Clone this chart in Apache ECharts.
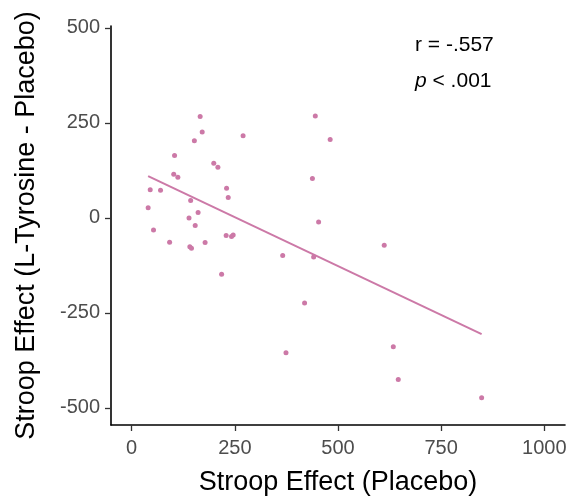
<!DOCTYPE html>
<html>
<head>
<meta charset="utf-8">
<script src="https://cdn.jsdelivr.net/npm/echarts@6/dist/echarts.min.js"></script>
<style>
html,body{margin:0;padding:0;background:#fff;}
#chart{width:575px;height:501px;}
</style>
</head>
<body>
<div id="chart"></div>
<script>
// Scatter points: Stroop Effect (Placebo) vs Stroop Effect (L-Tyrosine - Placebo)
const placebo = [166, 171, 152, 270, 104, 199, 209, 102, 112, 45, 70, 230, 234, 143, 40, 161, 139, 154, 53, 229, 242, 246, 92, 178, 141, 145, 366, 218, 445, 481, 438, 453, 612, 441, 419, 634, 646, 848, 374];
const difference = [267, 226, 203, 216, 164, 144, 133, 115, 107, 74, 73, 78, 54, 46, 27, 14, 0, -20, -32, -46, -49, -45, -64, -65, -76, -80, -99, -148, 268, 206, 104, -11, -72, -103, -224, -339, -425, -473, -355];
// Fitted regression line endpoints
const fitX = [40, 848];
const fitY = [110, -306];
const xTicks = [0, 250, 500, 750, 1000];
const yTicks = [-500, -250, 0, 250, 500];
const statR = 'r = -.557';
const statP = '.001';

const pink = '#CC79A7';
const chart = echarts.init(document.getElementById('chart'), null, {renderer: 'canvas'});
const pts = placebo.map((x, i) => [x, difference[i]]);
const fit = fitX.map((x, i) => [x, fitY[i]]);

chart.setOption({
  animation: false,
  backgroundColor: '#ffffff',
  textStyle: {fontFamily: 'Liberation Sans'},
  grid: {left: 111, right: 10, top: 26, bottom: 76, containLabel: false},
  xAxis: {
    type: 'value', min: -50, max: 1050,
    name: 'Stroop Effect (Placebo)', nameLocation: 'middle', nameGap: 44,
    nameTextStyle: {fontSize: 27, color: '#000', fontFamily: 'Liberation Sans'},
    splitLine: {show: false},
    axisLine: {show: true, onZero: false, lineStyle: {color: '#000', width: 1.6}},
    axisTick: {show: true, length: 6, customValues: xTicks, lineStyle: {color: '#333', width: 1.3}},
    axisLabel: {customValues: xTicks, fontSize: 20, color: '#4d4d4d', margin: 13,
      fontFamily: 'Liberation Sans', formatter: v => String(v)}
  },
  yAxis: {
    type: 'value', min: -545, max: 505,
    name: 'Stroop Effect (L-Tyrosine - Placebo)', nameLocation: 'middle', nameGap: 71, nameRotate: 90,
    nameTextStyle: {fontSize: 27, color: '#000', fontFamily: 'Liberation Sans'},
    splitLine: {show: false},
    axisLine: {show: true, onZero: false, lineStyle: {color: '#000', width: 1.6}},
    axisTick: {show: true, length: 6, customValues: yTicks, lineStyle: {color: '#333', width: 1.3}},
    axisLabel: {customValues: yTicks, fontSize: 20, color: '#4d4d4d', margin: 11,
      fontFamily: 'Liberation Sans', formatter: v => String(v)}
  },
  series: [
    {
      type: 'line', data: fit, showSymbol: false, symbol: 'none',
      lineStyle: {color: pink, width: 2}, z: 2
    },
    {
      type: 'scatter', data: pts, symbol: 'circle', symbolSize: 5,
      itemStyle: {color: pink, opacity: 1}, z: 3
    }
  ],
  graphic: [
    {type: 'text', left: 415, top: 35, style: {text: statR, font: '21px "Liberation Sans"', fill: '#000'}},
    {type: 'text', left: 415, top: 71, style: {
      text: '{i|p} < ' + statP,
      rich: {i: {fontStyle: 'italic', fontSize: 21, fontFamily: 'Liberation Sans', fill: '#000'}},
      font: '21px "Liberation Sans"', fill: '#000'}}
  ]
});
</script>
</body>
</html>
